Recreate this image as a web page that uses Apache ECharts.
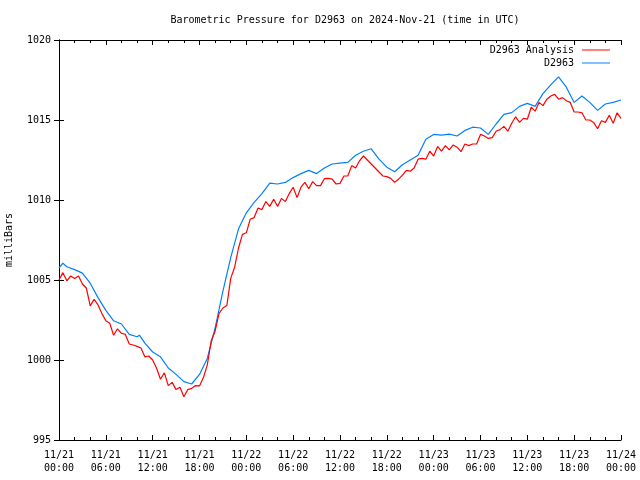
<!DOCTYPE html>
<html>
<head>
<meta charset="utf-8">
<script src="https://cdn.jsdelivr.net/npm/echarts@6/dist/echarts.min.js"></script>
<style>html,body{margin:0;padding:0;background:#fff}#c{width:640px;height:480px}</style>
</head>
<body>
<div id="c"></div>
<script>
// Hours since 2024-11-21 00:00 UTC
const xTickLabels = ['11/21\n00:00','11/21\n06:00','11/21\n12:00','11/21\n18:00','11/22\n00:00','11/22\n06:00','11/22\n12:00','11/22\n18:00','11/23\n00:00','11/23\n06:00','11/23\n12:00','11/23\n18:00','11/24\n00:00'];
const yTicks = [995, 1000, 1005, 1010, 1015, 1020];

// D2963 Analysis (red), every 30 minutes from 00:00
const analysisStepHours = 0.5;
const analysisValues = [
1005.0,1005.46,1004.95,1005.25,1005.1,1005.25,1004.75,1004.5,1003.38,1003.79,
1003.44,1002.9,1002.45,1002.3,1001.55,1001.95,1001.67,1001.6,1001.0,1000.94,
1000.85,1000.75,1000.2,1000.25,1000.0,999.48,998.8,999.2,998.4,998.6,
998.15,998.3,997.7,998.15,998.23,998.4,998.38,998.9,999.7,1001.2,
1001.8,1002.9,1003.25,1003.4,1005.1,1005.8,1007.0,1007.85,1007.95,1008.8,
1008.9,1009.5,1009.4,1009.9,1009.6,1010.05,1009.6,1010.1,1009.9,1010.4,
1010.8,1010.15,1010.8,1011.1,1010.7,1011.15,1010.9,1010.9,1011.33,1011.35,
1011.3,1011.0,1011.04,1011.5,1011.5,1012.15,1012.0,1012.45,1012.75,1012.5,
1012.25,1012.0,1011.75,1011.5,1011.46,1011.35,1011.1,1011.3,1011.55,1011.85,
1011.8,1012.0,1012.55,1012.6,1012.55,1013.05,1012.75,1013.35,1013.05,1013.4,
1013.13,1013.44,1013.3,1013.02,1013.5,1013.4,1013.5,1013.5,1014.1,1014.0,
1013.85,1013.9,1014.3,1014.4,1014.6,1014.3,1014.8,1015.2,1014.85,1015.1,
1015.05,1015.8,1015.55,1016.1,1015.9,1016.3,1016.5,1016.6,1016.3,1016.4,
1016.2,1016.1,1015.5,1015.5,1015.45,1015.0,1015.0,1014.85,1014.45,1014.95,
1014.85,1015.3,1014.8,1015.45,1015.1
];

// D2963 observed (blue)
const observedHours = [0,0.5,1,2,3,4,5,6,7,8,9,10,10.3,11,12,13,14,15,16,17,18,19,20,21,22,23,24,25,26,27,28,29,30,31,32,33,34,35,36,37,38,39,40,41,42,43,44,45,46,47,48,49,50,51,52,53,54,55,56,57,58,59,60,61,62,63,64,65,66,67,68,69,70,71,72];
const observedValues = [
1005.75,1006.05,1005.83,1005.65,1005.43,1004.8,1003.9,1003.1,1002.45,1002.25,
1001.6,1001.45,1001.55,1001.05,1000.5,1000.2,999.5,999.1,998.65,998.5,
999.1,1000.1,1002.0,1004.3,1006.4,1008.2,1009.2,1009.85,1010.4,1011.05,
1011.0,1011.1,1011.4,1011.65,1011.85,1011.65,1012.0,1012.25,1012.3,1012.35,
1012.8,1013.05,1013.2,1012.55,1012.05,1011.77,1012.2,1012.5,1012.8,1013.8,
1014.1,1014.06,1014.12,1014.0,1014.35,1014.55,1014.5,1014.1,1014.75,1015.35,
1015.46,1015.85,1016.04,1015.85,1016.65,1017.2,1017.7,1017.05,1016.1,1016.5,
1016.1,1015.6,1016.0,1016.1,1016.25
];

const analysisData = analysisValues.map((v, i) => [i * analysisStepHours, v]);
const observedData = observedValues.map((v, i) => [observedHours[i], v]);

const FONT = 'DejaVu Sans Mono';
const FS = 10;
const chart = echarts.init(document.getElementById('c'), null, {renderer: 'canvas'});
const axisLine = {show: true, lineStyle: {color: '#000', width: 1}};
chart.setOption({
  animation: false,
  backgroundColor: '#fff',
  title: {
    text: 'Barometric Pressure for D2963 on 2024-Nov-21 (time in UTC)',
    left: 340, top: 10, textAlign: 'center',
    textStyle: {fontFamily: FONT, fontSize: FS, fontWeight: 'normal', color: '#000'}
  },
  legend: [
    {data: ['D2963 Analysis'], right: 30, top: 45, padding: 0, align: 'right', icon: 'rect', itemWidth: 28, itemHeight: 1, itemGap: 0,
     textStyle: {fontFamily: FONT, fontSize: FS, color: '#000', padding: [0, 3, 0, 0]}},
    {data: ['D2963'], right: 30, top: 58, padding: 0, align: 'right', icon: 'rect', itemWidth: 28, itemHeight: 1, itemGap: 0,
     textStyle: {fontFamily: FONT, fontSize: FS, color: '#000', padding: [0, 3, 0, 0]}}
  ],
  grid: {left: 59, right: 19, top: 40, bottom: 40, containLabel: false, outerBoundsMode: 'none'},
  xAxis: [
    {type: 'value', min: 0, max: 72, interval: 6, position: 'bottom',
     axisLine: axisLine,
     axisTick: {show: true, inside: true, length: 5, lineStyle: {color: '#000'}},
     minorTick: {show: true, splitNumber: 3, length: 3, lineStyle: {color: '#000'}},
     splitLine: {show: false},
     axisLabel: {fontFamily: FONT, fontSize: FS, color: '#000', margin: 9, lineHeight: 13,
       formatter: v => xTickLabels[Math.round(v / 6)]}},
    {type: 'value', min: 0, max: 72, interval: 6, position: 'top',
     axisLine: axisLine,
     axisTick: {show: true, inside: true, length: 5, lineStyle: {color: '#000'}},
     minorTick: {show: true, splitNumber: 3, length: 3, lineStyle: {color: '#000'}},
     splitLine: {show: false}, axisLabel: {show: false}}
  ],
  yAxis: [
    {type: 'value', min: yTicks[0], max: yTicks[yTicks.length - 1], interval: 5, position: 'left',
     name: 'milliBars', nameLocation: 'middle', nameRotate: 90, nameGap: 45,
     nameTextStyle: {fontFamily: FONT, fontSize: FS, color: '#000'},
     axisLine: axisLine,
     axisTick: {show: true, inside: true, length: 5, lineStyle: {color: '#000'}},
     splitLine: {show: false},
     axisLabel: {fontFamily: FONT, fontSize: FS, color: '#000', margin: 8, formatter: v => String(v)}},
    {type: 'value', min: yTicks[0], max: yTicks[yTicks.length - 1], interval: 5, position: 'right',
     axisLine: axisLine,
     axisTick: {show: true, inside: true, length: 5, lineStyle: {color: '#000'}},
     splitLine: {show: false}, axisLabel: {show: false}}
  ],
  series: [
    {name: 'D2963 Analysis', type: 'line', data: analysisData, showSymbol: false, symbol: 'none',
     color: '#ff0000', lineStyle: {color: '#ff0000', width: 1.2}, z: 3},
    {name: 'D2963', type: 'line', data: observedData, showSymbol: false, symbol: 'none',
     color: '#0080ff', lineStyle: {color: '#0080ff', width: 1.2}, z: 2}
  ]
});
</script>
</body>
</html>
